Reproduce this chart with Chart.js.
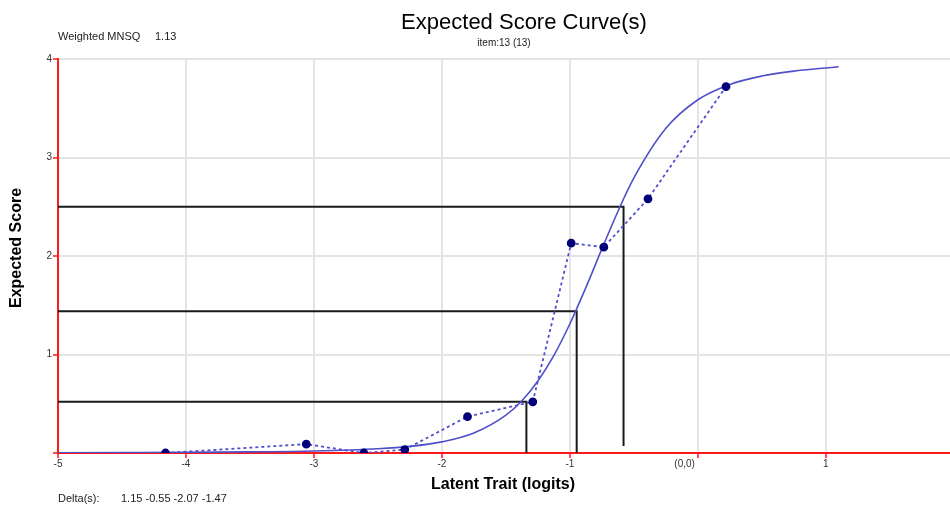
<!DOCTYPE html>
<html>
<head>
<meta charset="utf-8">
<title>Expected Score Curve(s)</title>
<script src="https://cdn.jsdelivr.net/npm/chart.js@4/dist/chart.umd.min.js"></script>
<style>
  html, body { margin: 0; padding: 0; background: #fff; }
  #wrap { width: 950px; height: 505px; position: relative; }
</style>
</head>
<body>
<div id="wrap"><canvas id="chart" width="950" height="505"></canvas></div>
<script>
// Model expected score curve (latent trait in logits -> expected score)
const curveX = [-5, -4.5, -4, -3.5, -3, -2.5, -2.25, -2, -1.75, -1.5, -1.375, -1.25, -1.125,
                -1, -0.875, -0.75, -0.625, -0.5, -0.25, 0, 0.25, 0.5, 0.75, 1, 1.1];
const curveY = [0.002, 0.004, 0.006, 0.011, 0.020, 0.043, 0.067, 0.113, 0.203, 0.384, 0.531, 0.731, 0.991,
                1.312, 1.681, 2.072, 2.452, 2.792, 3.296, 3.586, 3.742, 3.827, 3.877, 3.909, 3.921];

// Observed mean scores per ability group
const obsX = [-4.16, -3.06, -2.61, -2.29, -1.80, -1.29, -0.99, -0.735, -0.39, 0.22];
const obsY = [0.0, 0.09, 0.0, 0.035, 0.37, 0.52, 2.13, 2.09, 2.58, 3.72];

// Threshold guide lines: score level, where it meets the curve, where the drop line ends
const stepY = [0.52, 1.44, 2.50];
const stepX = [-1.34, -0.947, -0.581];
const stepFoot = [0, 0, 0.07];

// Axis range and ticks
const xMin = -5;
const xMax = 1.97;
const xTicks = [-5, -4, -3, -2, -1, 0, 1];
const yTicks = [0, 1, 2, 3, 4];
const originLabel = '(0,0)';

// Text
const chartTitle = 'Expected Score Curve(s)';
const itemLabel = 'item:13 (13)';
const fitName = 'Weighted MNSQ';
const fitValue = '1.13';
const deltaName = 'Delta(s):';
const deltaValues = '1.15 -0.55 -2.07 -1.47';
const xTitle = 'Latent Trait (logits)';
const yTitle = 'Expected Score';

const FONT = '"Liberation Sans", Arial, Helvetica, sans-serif';

const curvePoints = curveX.map((x, i) => ({ x, y: curveY[i] }));
const obsPoints = obsX.map((x, i) => ({ x, y: obsY[i] }));

const stepSets = stepY.map((y, i) => ({
  label: 'threshold ' + (i + 1),
  data: [{ x: xMin, y }, { x: stepX[i], y }, { x: stepX[i], y: stepFoot[i] }],
  showLine: true,
  borderColor: '#1a1a1a',
  borderWidth: 2,
  pointRadius: 0,
  tension: 0,
  order: 3
}));

const textPlugin = {
  id: 'chartText',
  afterDraw(chart) {
    const ctx = chart.ctx;
    const xs = chart.scales.x;
    ctx.save();
    ctx.fillStyle = '#000';
    ctx.textBaseline = 'alphabetic';

    ctx.textAlign = 'center';
    ctx.font = '22px ' + FONT;
    ctx.fillText(chartTitle, 524, 28.5);

    ctx.font = '10px ' + FONT;
    ctx.fillStyle = '#222';
    ctx.fillText(itemLabel, 504, 46);

    ctx.textAlign = 'left';
    ctx.font = '11px ' + FONT;
    ctx.fillText(fitName, 58, 39.5);
    ctx.fillText(fitValue, 155, 39.5);
    ctx.fillText(deltaName, 58, 502);
    ctx.fillText(deltaValues, 121, 502);

    ctx.fillStyle = '#000';
    ctx.textAlign = 'center';
    ctx.font = 'bold 16px ' + FONT;
    ctx.fillText(xTitle, 503, 488.5);

    ctx.save();
    ctx.translate(21, 248);
    ctx.rotate(-Math.PI / 2);
    ctx.fillText(yTitle, 0, 0);
    ctx.restore();

    ctx.fillStyle = '#333';
    ctx.textAlign = 'right';
    ctx.font = '10px ' + FONT;
    ctx.fillText(originLabel, xs.getPixelForValue(0) - 3, 467);
    ctx.restore();
  }
};

new Chart(document.getElementById('chart'), {
  type: 'scatter',
  data: {
    datasets: [
      {
        label: 'observed',
        data: obsPoints,
        showLine: true,
        borderColor: 'rgb(80, 80, 205)',
        borderWidth: 1.8,
        borderDash: [3, 3],
        pointRadius: 3.5,
        pointBackgroundColor: '#00007a',
        pointBorderColor: '#00007a',
        tension: 0,
        order: 1
      },
      {
        label: 'expected',
        data: curvePoints,
        showLine: true,
        borderColor: 'rgb(80, 80, 200)',
        borderWidth: 1.6,
        pointRadius: 0,
        cubicInterpolationMode: 'monotone',
        order: 2
      },
      ...stepSets
    ]
  },
  options: {
    responsive: false,
    animation: false,
    devicePixelRatio: 1,
    layout: { autoPadding: false, padding: { top: 59, right: 0, bottom: 0, left: 0 } },
    plugins: {
      legend: { display: false },
      title: { display: false },
      tooltip: { enabled: false }
    },
    scales: {
      x: {
        type: 'linear',
        min: xMin,
        max: xMax,
        afterFit(scale) {
          scale.height = 52;
          scale.paddingRight = 0;
        },
        afterBuildTicks(scale) { scale.ticks = xTicks.map(v => ({ value: v })); },
        ticks: {
          autoSkip: false,
          maxRotation: 0,
          padding: 0,
          color: '#333',
          font: { family: FONT, size: 10 },
          callback: v => v === 0 ? '' : String(v)
        },
        grid: {
          color: '#e4e4e4',
          lineWidth: 2,
          drawTicks: true,
          tickLength: 5,
          tickColor: '#ff1a1a',
          tickWidth: 1.5
        },
        border: { display: true, color: '#ff1a1a', width: 2 }
      },
      y: {
        type: 'linear',
        min: 0,
        max: 4,
        afterFit(scale) { scale.width = 58; },
        afterBuildTicks(scale) { scale.ticks = yTicks.map(v => ({ value: v })); },
        ticks: {
          padding: 1,
          color: '#333',
          font: { family: FONT, size: 10 },
          callback: v => v === 0 ? '' : String(v)
        },
        grid: {
          color: '#e4e4e4',
          lineWidth: 2,
          drawTicks: true,
          tickLength: 5,
          tickColor: '#ff1a1a',
          tickWidth: 1.5
        },
        border: { display: true, color: '#ff1a1a', width: 2 }
      }
    }
  },
  plugins: [textPlugin]
});
</script>
</body>
</html>
